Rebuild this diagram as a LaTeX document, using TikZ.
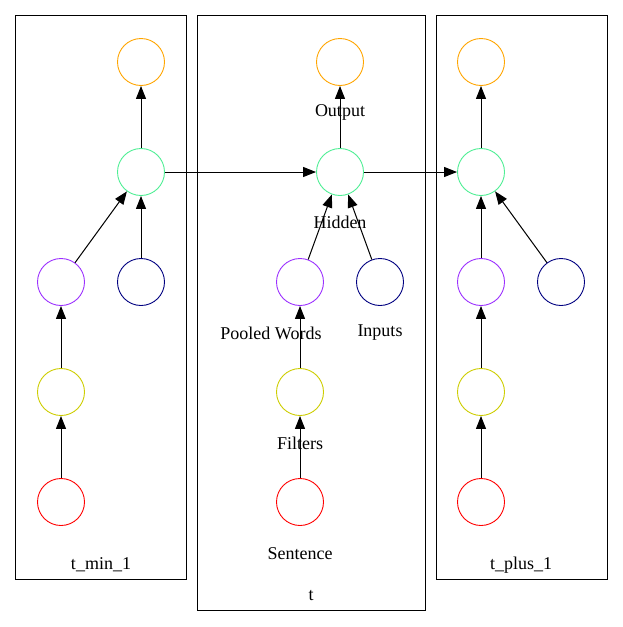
\documentclass[tikz,border=0pt]{standalone}
\usepackage{fontspec}
\setmainfont{Liberation Serif}
\usetikzlibrary{arrows.meta}
\definecolor{cOut}{HTML}{FFA500}
\definecolor{cHid}{HTML}{4EEE94}
\definecolor{cPool}{HTML}{9B30FF}
\definecolor{cIn}{HTML}{000080}
\definecolor{cFil}{HTML}{CDCD00}
\definecolor{cSen}{HTML}{FF0000}
\begin{document}
\begin{tikzpicture}[x=1pt,y=-1pt,
  nd/.style={circle,draw,line width=0.9pt,minimum size=47pt,inner sep=0pt},
  frame/.style={draw,line width=0.9pt},
  lbl/.style={font=\fontsize{18}{20}\selectfont,inner sep=0pt},
  edge/.style={line width=1pt,-{Triangle[length=13pt,width=10pt]}}]
\useasboundingbox (0,0) rectangle (623,627);
\draw[frame] (15,15) rectangle (186,579);
\draw[frame] (197,15) rectangle (425,610);
\draw[frame] (436,15) rectangle (607,579);
% left
\node[nd,draw=cOut] (ao) at (141,62) {};
\node[nd,draw=cHid] (ah) at (141,172) {};
\node[nd,draw=cPool] (ap) at (61,282) {};
\node[nd,draw=cIn] (ai) at (141,282) {};
\node[nd,draw=cFil] (af) at (61,392) {};
\node[nd,draw=cSen] (as) at (61,502) {};
% middle
\node[nd,draw=cOut] (bo) at (340,62) {};
\node[nd,draw=cHid] (bh) at (340,172) {};
\node[nd,draw=cPool] (bp) at (300,282) {};
\node[nd,draw=cIn] (bi) at (380,282) {};
\node[nd,draw=cFil] (bf) at (300,392) {};
\node[nd,draw=cSen] (bs) at (300,502) {};
% right
\node[nd,draw=cOut] (co) at (481,62) {};
\node[nd,draw=cHid] (ch) at (481,172) {};
\node[nd,draw=cPool] (cp) at (481,282) {};
\node[nd,draw=cIn] (ci) at (561,282) {};
\node[nd,draw=cFil] (cf) at (481,392) {};
\node[nd,draw=cSen] (cs) at (481,502) {};
% edges
\foreach \p in {a,b,c}{
  \draw[edge] (\p s) -- (\p f);
  \draw[edge] (\p f) -- (\p p);
  \draw[edge] (\p p) -- (\p h);
  \draw[edge] (\p i) -- (\p h);
  \draw[edge] (\p h) -- (\p o);
}
\draw[edge] (ah) -- (bh);
\draw[edge] (bh) -- (ch);
% labels
\node[lbl] (lo) at (340,112) {Output};
\node[lbl] (lh) at (340,222) {Hidden};
\node[lbl] (lp) at (271,333) {Pooled Words};
\node[lbl] (li) at (380,333) {Inputs};
\node[lbl] (lf) at (300,443) {Filters};
\node[lbl] (ls) at (300,554) {Sentence};
\node[lbl] (ta) at (101,565) {t\_min\_1};
\node[lbl] (tb) at (311,596) {t};
\node[lbl] (tc) at (521,565) {t\_plus\_1};
\end{tikzpicture}
\end{document}
